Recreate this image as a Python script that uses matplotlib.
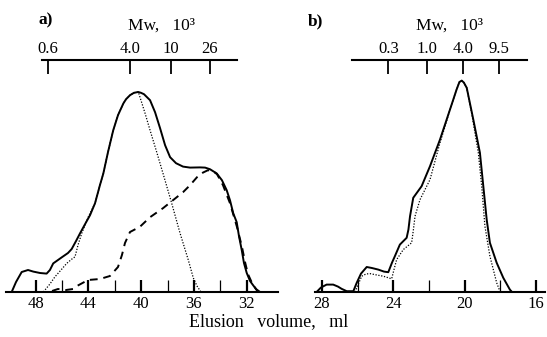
import matplotlib
matplotlib.use("Agg")
import matplotlib.pyplot as plt

plt.rcParams["font.family"] = ["Liberation Serif", "DejaVu Serif"]

# ---- panel a: elution volume (ml) vs detector response (arb. units)
a_solid_ml = [49.82, 49.49, 49.06, 48.58, 48.18, 47.67, 47.17, 46.92, 46.67, 46.03,
              45.55, 45.27, 44.94, 44.64, 44.26, 43.88, 43.50, 43.13, 42.87, 42.52,
              42.12, 41.76, 41.36, 41.15, 40.85, 40.55, 40.22, 40.02, 39.79, 39.33,
              38.95, 38.57, 38.19, 37.81, 37.36, 36.83, 36.30, 35.54, 35.16, 34.79,
              34.28, 33.88, 33.52, 33.27, 33.02, 32.76, 32.59, 32.38, 32.21, 32.00,
              31.75, 31.53, 31.30, 30.99]
a_solid_i = [0.0, 5.0, 10.0, 11.0, 10.2, 9.5, 9.2, 11.0, 14.3, 17.3,
             19.5, 21.5, 25.5, 29.3, 33.9, 38.4, 44.4, 53.4, 59.3, 69.9,
             80.9, 88.4, 94.2, 96.4, 98.4, 99.6, 100.0, 99.6, 98.9, 95.9,
             89.9, 81.9, 73.4, 67.4, 64.4, 62.7, 62.2, 62.3, 62.2, 61.4,
             59.3, 55.9, 50.9, 45.9, 39.3, 34.9, 28.0, 21.0, 14.5, 9.5,
             5.5, 3.5, 1.5, 0.0]

a_dot_ml = [47.42, 46.92, 46.54, 46.08, 45.65, 45.25, 45.02, 44.79, 44.51, 44.01,
            43.50, 43.13, 42.87, 42.52, 42.12, 41.76, 41.36, 41.15, 40.85, 40.55,
            40.22, 40.02, 39.71, 39.33, 38.80, 38.33, 37.69, 37.06, 36.43, 36.05,
            35.77, 35.47]
a_dot_i = [0.0, 4.0, 7.6, 11.0, 14.3, 16.5, 17.6, 23.5, 29.3, 37.6,
           44.4, 53.4, 59.3, 69.9, 80.9, 88.4, 94.2, 96.4, 98.4, 99.6,
           100.0, 95.9, 89.4, 80.9, 69.4, 58.9, 44.4, 29.5, 16.0, 7.0,
           3.0, 0.0]

a_dash_ml = [46.76, 46.31, 45.70, 45.17, 44.87, 44.03, 43.13, 42.37, 41.76, 41.46,
             41.23, 40.85, 40.10, 39.33, 38.35, 37.59, 36.83, 36.30, 35.77, 35.32,
             34.94, 34.56, 34.25, 33.80, 33.27, 32.74, 32.36, 32.13, 31.91, 31.60, 31.15]
a_dash_i = [0.5, 1.5, 1.0, 1.5, 3.0, 6.0, 6.5, 8.0, 12.5, 18.5,
            24.5, 30.0, 32.6, 37.4, 41.9, 45.9, 49.9, 53.4, 57.4, 59.7,
            60.9, 60.4, 58.9, 53.4, 44.4, 32.5, 22.5, 15.0, 9.0, 4.5, 0.0]

# ---- panel b
b_solid_ml = [28.30, 28.06, 27.74, 27.37, 27.10, 26.90, 26.61, 26.24, 26.05, 25.81,
              25.49, 25.20, 24.84, 24.52, 24.28, 24.07, 23.91, 23.63, 23.25, 23.15,
              23.06, 22.88, 22.41, 21.94, 21.38, 20.82, 20.45, 20.29, 20.16, 20.04,
              19.88, 19.51, 19.14, 18.95, 18.76, 18.58, 18.20, 17.83, 17.46, 17.34]
b_solid_i = [0.0, 2.2, 3.7, 3.7, 2.7, 1.6, 0.4, 0.4, 4.6, 9.2,
             12.5, 12.0, 11.2, 10.2, 9.9, 14.7, 17.9, 23.7, 27.1, 31.2,
             37.9, 47.1, 52.9, 62.9, 76.2, 91.2, 101.2, 105.0, 105.7, 104.7,
             102.1, 86.2, 69.6, 52.9, 36.2, 24.6, 14.6, 7.1, 1.2, 0.0]

b_dot_ml = [26.15, 25.95, 25.77, 25.53, 25.31, 24.92, 24.56, 24.09, 23.96, 23.81,
            23.44, 22.97, 22.87, 22.78, 22.50, 21.94, 21.38, 21.10, 20.82, 20.45,
            20.29, 20.16, 20.04, 19.88, 19.59, 19.23, 19.04, 18.86, 18.58, 18.20, 18.02]
b_dot_i = [0.0, 4.2, 7.9, 9.0, 9.2, 8.5, 7.9, 6.6, 11.2, 16.2,
           21.2, 24.6, 31.2, 37.9, 46.2, 56.2, 74.6, 82.7, 91.2, 101.2,
           105.0, 105.7, 104.7, 102.1, 88.7, 69.6, 52.9, 32.9, 17.9, 4.6, 0.4]

# molecular weight scale (top axis), positions in ml
a_mw_pos = [47.05, 40.85, 37.76, 34.79]
a_mw_lab = ["0.6", "4.0", "10", "26"]
b_mw_pos = [24.28, 22.13, 20.11, 18.06]
b_mw_lab = ["0.3", "1.0", "4.0", "9.5"]

a_major = [48, 44, 40, 36, 32]
a_minor = [46, 42, 38, 34]
b_major = [28, 24, 20, 16]
b_minor = [26, 22, 18]

W, H = 547, 337
fig = plt.figure(figsize=(W / 100, H / 100), dpi=100)


def make_panel(px_left, px_right, xlim, top_bounds, major, minor, mw_pos, mw_lab):
    ax = fig.add_axes([px_left / W, 45 / H, (px_right - px_left) / W, 232 / H])
    ax.set_xlim(*xlim)
    ax.set_ylim(0, 116)
    for s in ["left", "right", "top"]:
        ax.spines[s].set_visible(False)
    ax.spines["bottom"].set_linewidth(1.5)
    ax.set_yticks([])
    ax.set_xticks(major)
    ax.set_xticklabels([str(v) for v in major], fontsize=12)
    ax.set_xticks(minor, minor=True)
    ax.tick_params(axis="x", which="major", direction="in", length=9, width=1.6, pad=3)
    ax.tick_params(axis="x", which="minor", direction="in", length=9, width=0.9)

    top = ax.twiny()
    top.set_xlim(*xlim)
    for s in ["left", "right", "bottom"]:
        top.spines[s].set_visible(False)
    top.spines["top"].set_bounds(*top_bounds)
    top.spines["top"].set_linewidth(1.5)
    top.set_xticks(mw_pos)
    top.set_xticklabels(mw_lab, fontsize=12)
    top.tick_params(axis="x", direction="in", length=10, width=1.3, pad=2)
    return ax


ax_a = make_panel(6, 278, (50.25, 29.63), (47.52, 32.73), a_major, a_minor, a_mw_pos, a_mw_lab)
ax_a.plot(a_solid_ml, a_solid_i, color="black", lw=1.4)
ax_a.plot(a_dot_ml, a_dot_i, color="black", lw=0.9, linestyle=(0, (1, 1.3)))
ax_a.plot(a_dash_ml, a_dash_i, color="black", lw=1.4, linestyle=(0, (4, 3)))

ax_b = make_panel(315, 545, (28.39, 15.49), (26.33, 16.52), b_major, b_minor, b_mw_pos, b_mw_lab)
ax_b.plot(b_solid_ml, b_solid_i, color="black", lw=1.4)
ax_b.plot(b_dot_ml, b_dot_i, color="black", lw=0.9, linestyle=(0, (1, 1.3)))

fig.text(46 / W, 1 - 20 / H, "a)", fontsize=12.5, fontweight="bold", ha="center", va="center")
fig.text(315 / W, 1 - 21 / H, "b)", fontsize=12.5, fontweight="bold", ha="center", va="center")
fig.text(161 / W, 1 - 26 / H, "Mw,   10³", fontsize=12.5, ha="center", va="center")
fig.text(449 / W, 1 - 26 / H, "Mw,   10³", fontsize=12.5, ha="center", va="center")
fig.text(269 / W, 1 - 322 / H, "Elusion   volume,   ml", fontsize=13, ha="center", va="center")

fig.savefig("out.png", dpi=100)
